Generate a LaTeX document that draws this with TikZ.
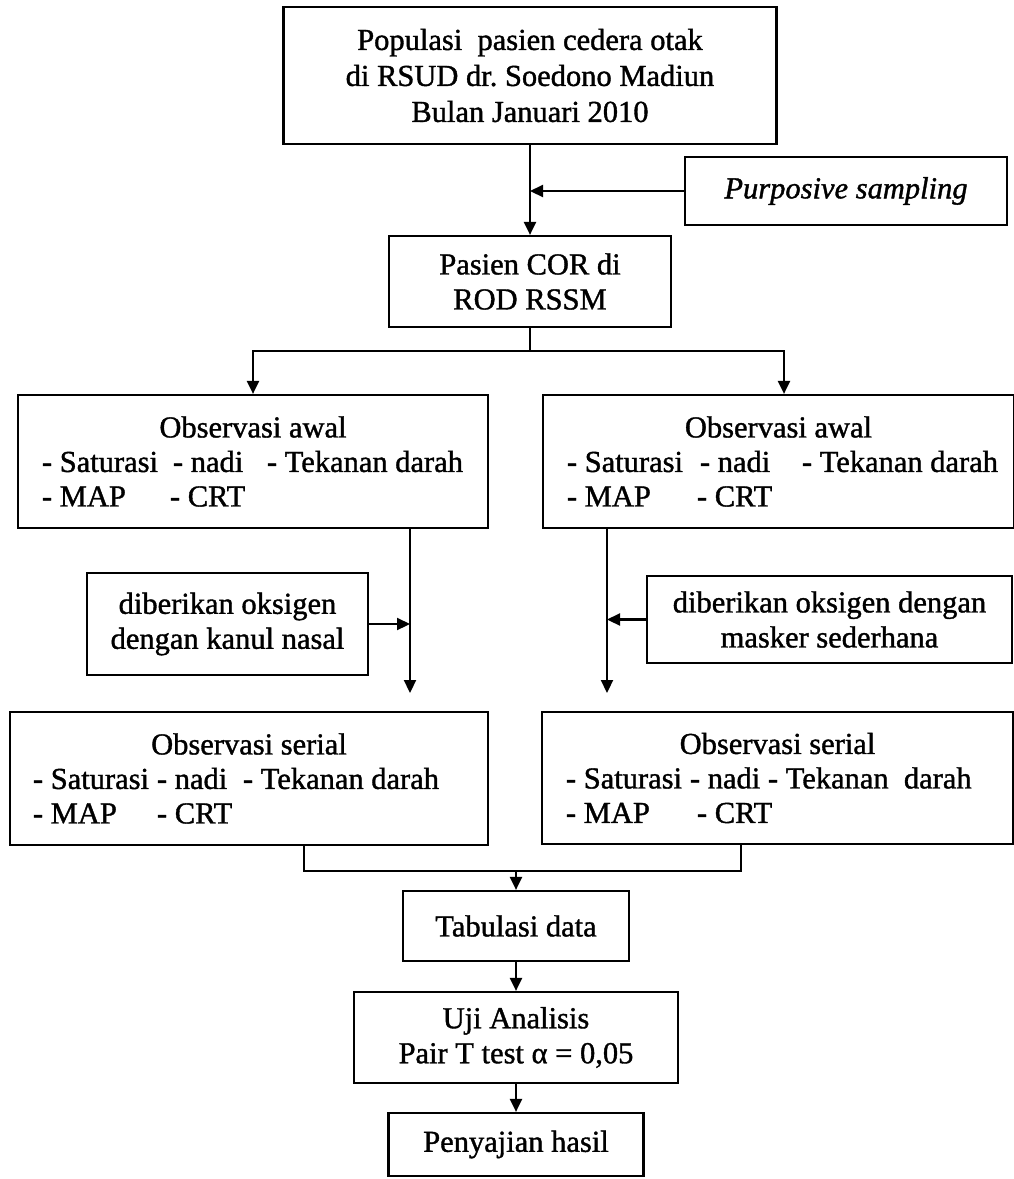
\documentclass[tikz,border=0pt]{standalone}
\usepackage{fontspec}
\setmainfont{Liberation Serif}[FakeBold=1.2]
\usetikzlibrary{arrows.meta,positioning}
\frenchspacing
\tikzset{
  box/.style={draw,line width=2.2pt,inner sep=0pt,align=center,
    font=\fontsize{30.5}{35}\selectfont},
  obs/.style={box,font=\fontsize{30.5}{34.5}\selectfont},
  arr/.style={line width=2.2pt,-{Triangle[length=13pt,width=12pt]}},
  link/.style={line width=2.2pt}
}

\begin{document}
\begin{tikzpicture}[x=1pt,y=-1pt]
    \fill[white] (0,0) rectangle (1014,1179);
    \useasboundingbox (0,0) rectangle (1014,1179);
    % top part
    \node[box,font=\fontsize{30.5}{36}\selectfont,minimum width=493pt,minimum height=137pt] (pop) at (530,75.5)
      {Populasi\ \ pasien cedera otak\\di RSUD dr. Soedono Madiun\\Bulan Januari 2010};
    \node[box,minimum width=322pt,minimum height=68pt] (purp) at (846,191)
      {\itshape Purposive sampling};
    \node[box,minimum width=282pt,minimum height=91pt] (pas) at (530,281.5)
      {Pasien COR di\\ROD RSSM};
    \draw[arr] (pop) -- (pas);
    \draw[arr] (purp) -- (purp -| pop);
    % observasi awal
    \node[obs,minimum width=470pt,minimum height=133pt] (awalL) at (253,461.5)
      {Observasi awal\\
       \makebox[422pt][l]{\makebox[131pt][l]{- Saturasi}\makebox[94pt][l]{- nadi}- Tekanan darah}\\
       \makebox[422pt][l]{\makebox[128pt][l]{- MAP}- CRT}};
    \node[obs,minimum width=471pt,minimum height=133pt] (awalR) at (778.5,461.5)
      {Observasi awal\\
       \makebox[423pt][l]{\makebox[133pt][l]{- Saturasi}\makebox[102pt][l]{- nadi}- Tekanan darah}\\
       \makebox[423pt][l]{\makebox[130pt][l]{- MAP}- CRT}};
    \draw[link] (pas.south) -- ++(0,23) coordinate (split);
    \draw[arr] (split) -| (awalL.north);
    \draw[arr] (split) -| ([xshift=5.5pt]awalR.north);
    % pemberian oksigen
    \node[box,minimum width=281pt,minimum height=102pt] (kanul) at (227.5,624)
      {diberikan oksigen\\dengan kanul nasal};
    \node[box,minimum width=365pt,minimum height=87pt] (masker) at (829.5,619.5)
      {diberikan oksigen dengan\\masker sederhana};
    \coordinate (tapL) at (410,528);
    \coordinate (endL) at (410,693);
    \coordinate (tapR) at (607,528);
    \coordinate (endR) at (607,693);
    \draw[arr] (tapL) -- (endL);
    \draw[arr] (tapR) -- (endR);
    \draw[arr] (kanul) -- (kanul -| tapL);
    \draw[arr] (masker) -- (masker -| tapR);
    % observasi serial
    \node[obs,minimum width=478pt,minimum height=133pt] (serL) at (249,778.5)
      {Observasi serial\\
       \makebox[432pt][l]{\makebox[124pt][l]{- Saturasi}\makebox[86pt][l]{- nadi}- Tekanan darah}\\
       \makebox[432pt][l]{\makebox[124pt][l]{- MAP}- CRT}};
    \node[obs,minimum width=471pt,minimum height=132pt] (serR) at (777.5,778)
      {Observasi serial\\
       \makebox[423pt][l]{\makebox[124pt][l]{- Saturasi}\makebox[78pt][l]{- nadi}- Tekanan\ \ darah}\\
       \makebox[423pt][l]{\makebox[131pt][l]{- MAP}- CRT}};
    % analisis
    \node[box,minimum width=226pt,minimum height=70pt] (tab) at (516,926)
      {Tabulasi data};
    \node[box,minimum width=324pt,minimum height=91pt] (uji) at (516,1037.5)
      {Uji Analisis\\Pair T test α = 0,05};
    \node[box,minimum width=255pt,minimum height=63pt] (peny) at (516,1144.5)
      {Penyajian hasil};
    \coordinate (joinL) at (304,871);
    \coordinate (joinR) at (741,871);
    \draw[link] (serL.south -| joinL) -- (joinL) -- (joinR) -- (serR.south -| joinR);
    \draw[arr] (joinL -| tab) -- (tab);
    \draw[arr] (tab) -- (uji);
    \draw[arr] (uji) -- (peny);
\end{tikzpicture}
\end{document}
